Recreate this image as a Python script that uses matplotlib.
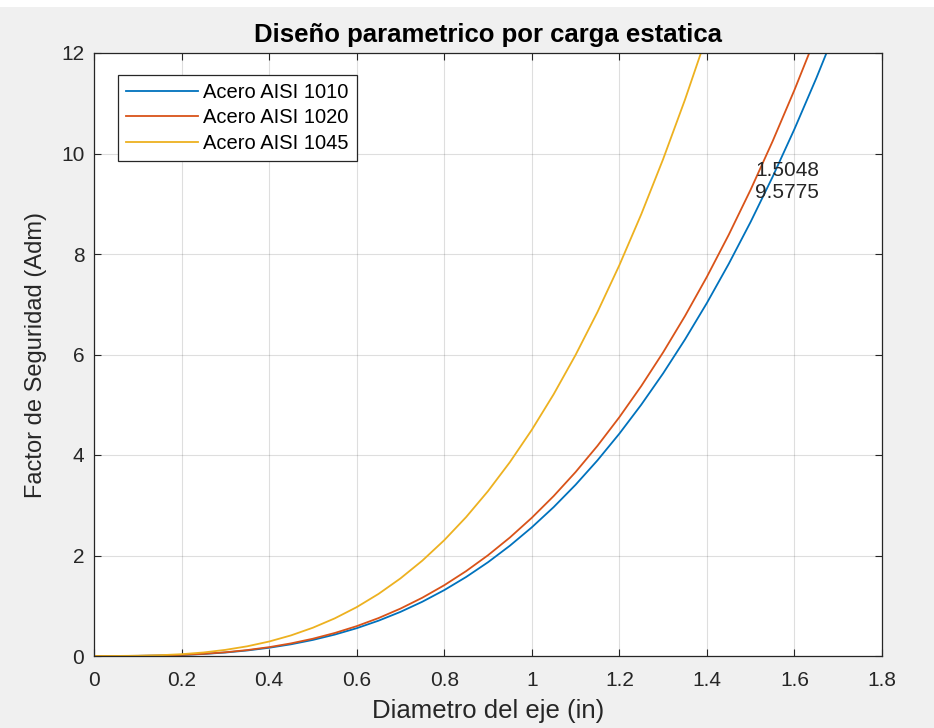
import numpy as np
import matplotlib
matplotlib.use('Agg')
import matplotlib.pyplot as plt
from matplotlib.patches import Rectangle

plt.rcParams['font.family'] = ['Liberation Sans', 'DejaVu Sans']

# Diametro del eje (in), cada 0.05
diam = [0.00, 0.05, 0.10, 0.15, 0.20, 0.25, 0.30, 0.35, 0.40, 0.45,
        0.50, 0.55, 0.60, 0.65, 0.70, 0.75, 0.80, 0.85, 0.90, 0.95,
        1.00, 1.05, 1.10, 1.15, 1.20, 1.25, 1.30, 1.35, 1.40, 1.45,
        1.50, 1.55, 1.60, 1.65, 1.70]

fs_1010 = [0, 0.0003, 0.003, 0.009, 0.020, 0.040, 0.069, 0.110, 0.164, 0.233,
           0.320, 0.426, 0.553, 0.703, 0.878, 1.080, 1.311, 1.572, 1.866, 2.195,
           2.560, 2.963, 3.407, 3.893, 4.424, 5.000, 5.624, 6.299, 7.025, 7.805,
           8.640, 9.533, 10.486, 11.500, 12.577]
fs_1020 = [0, 0.0003, 0.003, 0.009, 0.022, 0.043, 0.074, 0.118, 0.176, 0.251,
           0.344, 0.458, 0.594, 0.755, 0.943, 1.160, 1.408, 1.689, 2.005, 2.358,
           2.750, 3.183, 3.660, 4.182, 4.752, 5.371, 6.042, 6.766, 7.546, 8.384,
           9.281, 10.241, 11.264, 12.353]
fs_1045 = [0, 0.001, 0.005, 0.015, 0.036, 0.070, 0.122, 0.193, 0.288, 0.410,
           0.563, 0.749, 0.972, 1.236, 1.544, 1.898, 2.304, 2.764, 3.281, 3.858,
           4.500, 5.209, 5.990, 6.844, 7.776, 8.789, 9.887, 11.072, 12.348]

labels = ['Acero AISI 1010', 'Acero AISI 1020', 'Acero AISI 1045']
colors = ['#0072BD', '#D95319', '#EDB120']

fig = plt.figure(figsize=(9.34, 7.28), dpi=100, facecolor='#f0f0f0')
# thin white strip at the very top of the window
fig.patches.append(Rectangle((0, 1 - 7/728), 1, 7/728, transform=fig.transFigure,
                             facecolor='white', edgecolor='none', zorder=0))
ax = fig.add_axes([94/934, 1 - 656/728, (882 - 94)/934, (656 - 53)/728])
ax.set_facecolor('white')

for ys, lab, c in zip([fs_1010, fs_1020, fs_1045], labels, colors):
    ax.plot(diam[:len(ys)], ys, color=c, linewidth=1.3, label=lab)

ax.text(1.51, 9.45, '1.5048\n9.5775', fontsize=15, ha='left', va='center',
        color='#262626', linespacing=1.2)

ax.set_xlim(0, 1.8)
ax.set_ylim(0, 12)
ax.set_xticks(np.arange(0, 1.81, 0.2))
ax.set_xticklabels(['0', '0.2', '0.4', '0.6', '0.8', '1', '1.2', '1.4', '1.6', '1.8'])
ax.set_yticks(np.arange(0, 13, 2))
ax.tick_params(direction='in', top=True, right=True, labelsize=15,
               colors='#262626', length=5, width=0.8)
ax.tick_params(axis='x', pad=11)
ax.tick_params(axis='y', pad=7)
ax.grid(True, color='#262626', alpha=0.15, linewidth=0.8)
for s in ax.spines.values():
    s.set_color('#262626')
    s.set_linewidth(0.9)

ax.set_title('Diseño parametrico por carga estatica', fontsize=18.5,
             fontweight='bold', color='black', pad=8)
ax.set_xlabel('Diametro del eje (in)', fontsize=18.5, color='#262626', labelpad=6)
ax.set_ylabel('Factor de Seguridad (Adm)', fontsize=17, color='#262626', labelpad=10)

leg = ax.legend(loc='upper left', bbox_to_anchor=(0.03, 0.964), fontsize=14.5,
                handlelength=3.6, fancybox=False, framealpha=1,
                edgecolor='#262626', borderpad=0.4, labelspacing=0.32,
                handletextpad=0.25, borderaxespad=0)
leg.get_frame().set_linewidth(0.9)

fig.savefig('out.png', dpi=100, facecolor=fig.get_facecolor())
